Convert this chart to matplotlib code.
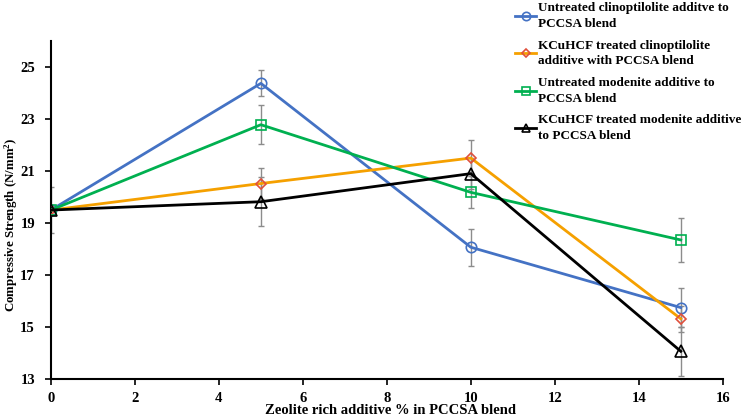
import matplotlib
matplotlib.use("Agg")
import matplotlib.pyplot as plt
from matplotlib.lines import Line2D

x = [0, 5, 10, 15]
series_names = [
    "Untreated clinoptilolite additve to\nPCCSA blend",
    "KCuHCF treated clinoptilolite\nadditive with PCCSA blend",
    "Untreated modenite additive to\nPCCSA blend",
    "KCuHCF treated modenite additive\nto PCCSA blend",
]
untreated_clino = [19.5, 24.37, 18.07, 15.75]
treated_clino = [19.5, 20.52, 21.5, 15.32]
untreated_mod = [19.5, 22.78, 20.18, 18.35]
treated_mod = [19.5, 19.82, 20.9, 14.07]

err_untreated_clino = [0.0, 0.5, 0.72, 0.75]
err_treated_clino = [0.0, 0.58, 0.68, 0.5]
err_untreated_mod = [0.0, 0.75, 0.62, 0.85]
err_treated_mod = [0.9, 0.95, 0.6, 0.95]

xticks = [0, 2, 4, 6, 8, 10, 12, 14, 16]
yticks = [13, 15, 17, 19, 21, 23, 25]

plt.rcParams['font.family'] = ['Liberation Serif', 'DejaVu Serif']
plt.rcParams['font.weight'] = 'bold'
plt.rcParams['mathtext.fontset'] = 'custom'
plt.rcParams['mathtext.rm'] = 'Liberation Serif'
plt.rcParams['mathtext.bf'] = 'Liberation Serif:bold'

fig = plt.figure(figsize=(7.49, 4.18), dpi=100)
ax = fig.add_axes([0.068, 0.093, 0.897, 0.809])

styles = [
    dict(color='#4472C4', marker='o', mec='#4472C4', ms=7.5),
    dict(color='#F5A000', marker='D', mec='#E0503C', ms=5.5),
    dict(color='#00B050', marker='s', mec='#00B050', ms=7.2),
    dict(color='#000000', marker='^', mec='#000000', ms=8),
]
data = [untreated_clino, treated_clino, untreated_mod, treated_mod]
errs = [err_untreated_clino, err_treated_clino, err_untreated_mod, err_treated_mod]

handles = []
for name, y, e, st in zip(series_names, data, errs, styles):
    ax.errorbar(x, y, yerr=e, fmt='none', ecolor='#8c8c8c', elinewidth=1,
                capsize=2.5, capthick=1, zorder=2)
    ax.plot(x, y, color=st['color'], lw=2, marker=st['marker'], ms=st['ms'],
            mfc='none', mec=st['mec'], mew=1.2, zorder=3)
    handles.append(Line2D([], [], color=st['color'], lw=2, marker=st['marker'],
                          ms=st['ms'] * 0.8, mfc='none', mec=st['mec'], mew=1.2))

ax.set_xlim(0, 16)
ax.set_ylim(13, 26)
ax.set_xticks(xticks)
ax.set_yticks(yticks)
ax.tick_params(direction='out', length=4.5, width=1.2, labelsize=10.5)
ax.tick_params(axis='y', pad=7)
ax.tick_params(axis='x', pad=5)
for lab in ax.get_xticklabels() + ax.get_yticklabels():
    lab.set_fontweight('bold')
for s in ['top', 'right']:
    ax.spines[s].set_visible(False)
for s in ['left', 'bottom']:
    ax.spines[s].set_linewidth(1.5)

ax.set_xlabel("Zeolite rich additive % in PCCSA blend", fontsize=10.5, fontweight='bold')
ax.xaxis.set_label_coords(0.506, -0.074)
ax.set_ylabel("Compressive Strength (N/mm$\\mathbf{^2}$)", fontsize=9.3, fontweight='bold')
ax.yaxis.set_label_coords(-0.046, 0.456)

leg = fig.legend(handles, series_names, loc='upper left', bbox_to_anchor=(0.672, 1.023),
                 frameon=False, handlelength=1.6, handletextpad=0.15, labelspacing=0.72,
                 prop=dict(family='Liberation Serif', weight='bold', size=9.5))
for t in leg.get_texts():
    t.set_linespacing(1.42)

fig.savefig("out.png", dpi=100)
